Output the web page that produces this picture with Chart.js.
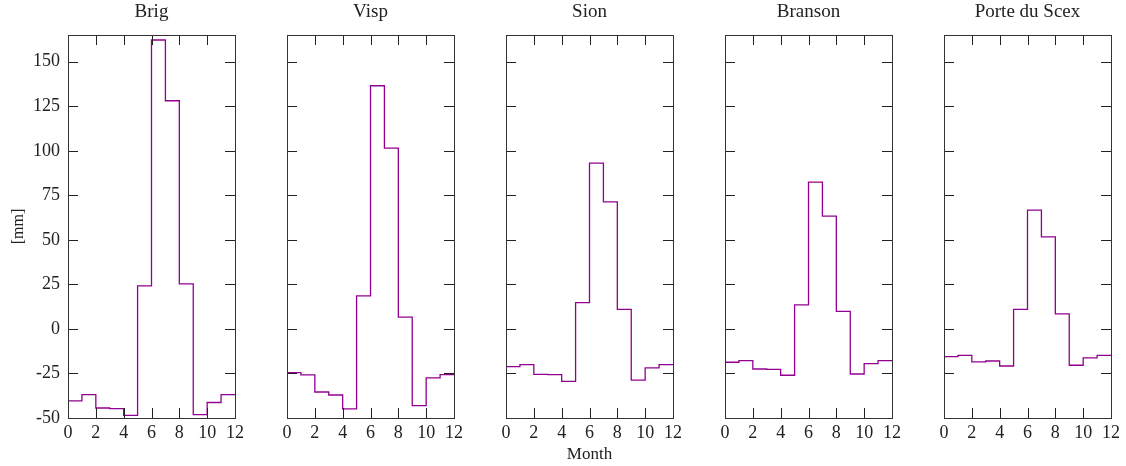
<!DOCTYPE html>
<html>
<head>
<meta charset="utf-8">
<script src="https://cdn.jsdelivr.net/npm/chart.js@4.4.1/dist/chart.umd.min.js"></script>
<style>
  body { margin: 0; background: #fff; overflow: hidden; }
  #wrap { position: relative; width: 1126px; height: 466px; overflow: hidden; }
  #wrap canvas { position: absolute; top: 0; }
</style>
</head>
<body>
<div id="wrap"></div>
<script>
// month edges (step starts), last one closes the step at 12
const months = [0, 1, 2, 3, 4, 5, 6, 7, 8, 9, 10, 11, 12];
const stations = ['Brig', 'Visp', 'Sion', 'Branson', 'Porte du Scex'];

const brig    = [-40.4, -36.9, -44.4, -44.7, -48.5, 24.2, 162.2, 128.1, 25.3, -48.1, -41.3, -36.9];
const visp    = [-24.5, -25.8, -35.4, -37.1, -44.9, 18.5, 136.5, 101.5, 6.6, -43.1, -27.5, -25.6];
const sion    = [-21.2, -20.0, -25.5, -25.7, -29.4, 14.8, 93.1, 71.3, 11.0, -28.7, -21.9, -20.0];
const branson = [-18.7, -17.8, -22.5, -22.7, -26.0, 13.5, 82.4, 63.3, 9.9, -25.3, -19.5, -17.8];
const porte   = [-15.5, -14.8, -18.5, -18.0, -20.8, 11.0, 66.7, 51.7, 8.4, -20.4, -16.3, -14.8];
const series = [brig, visp, sion, branson, porte];

const yTicks = [-50, -25, 0, 25, 50, 75, 100, 125, 150];
const xTicks = [0, 2, 4, 6, 8, 10, 12];

const FONT = "'Liberation Serif', 'DejaVu Serif', serif";
const SIDE_ROOM = 68;   // same room left and right so the title sits over the plot
const PLOT_W = 167;
const plotLefts = [68, 287, 506, 725, 944];

// frame + inward ticks on all four sides
const frameTicks = {
    id: 'frameTicks',
    afterDraw: function (chart) {
        const ctx = chart.ctx;
        const a = chart.chartArea;
        const xs = chart.scales.x;
        const ys = chart.scales.y;
        const tl = 10;
        ctx.save();
        ctx.strokeStyle = '#222';
        ctx.lineWidth = 1;
        ctx.beginPath();
        ys.ticks.forEach(function (t) {
            const y = Math.round(ys.getPixelForValue(t.value)) + 0.5;
            ctx.moveTo(a.left, y); ctx.lineTo(a.left + tl, y);
            ctx.moveTo(a.right, y); ctx.lineTo(a.right - tl, y);
        });
        xs.ticks.forEach(function (t) {
            const x = Math.round(xs.getPixelForValue(t.value)) + 0.5;
            ctx.moveTo(x, a.top); ctx.lineTo(x, a.top + tl);
            ctx.moveTo(x, a.bottom); ctx.lineTo(x, a.bottom - tl);
        });
        ctx.stroke();
        ctx.strokeStyle = '#333';
        ctx.strokeRect(Math.round(a.left) + 0.5, Math.round(a.top) + 0.5,
            Math.round(a.right - a.left), Math.round(a.bottom - a.top));
        ctx.restore();
    }
};

function makePanel(i) {
    const wrap = document.getElementById('wrap');
    const cv = document.createElement('canvas');
    const w = SIDE_ROOM * 2 + PLOT_W;
    cv.width = w;
    cv.height = 466;
    cv.style.left = (plotLefts[i] - SIDE_ROOM) + 'px';
    wrap.appendChild(cv);

    const vals = series[i];
    const pts = months.map(function (m, k) {
        return { x: m, y: vals[Math.min(k, vals.length - 1)] };
    });

    new Chart(cv, {
        type: 'line',
        data: {
            datasets: [{
                label: stations[i],
                data: pts,
                stepped: true,
                borderColor: 'rgb(145, 0, 145)',
                borderWidth: 1.3,
                pointRadius: 0,
                fill: false
            }]
        },
        options: {
            responsive: false,
            animation: false,
            layout: { padding: 0 },
            plugins: {
                legend: { display: false },
                tooltip: { enabled: false },
                title: {
                    display: true,
                    text: stations[i],
                    color: '#222',
                    font: { family: FONT, size: 19, weight: 'normal' },
                    padding: { top: 1, bottom: 11.2 }
                }
            },
            scales: {
                x: {
                    type: 'linear',
                    min: 0,
                    max: 12,
                    grid: { display: false, drawTicks: false },
                    border: { display: false },
                    afterBuildTicks: function (s) { s.ticks = xTicks.map(function (v) { return { value: v }; }); },
                    afterFit: function (s) { s.height = 48; },
                    ticks: {
                        color: '#222',
                        padding: 4,
                        maxRotation: 0,
                        autoSkip: false,
                        font: { family: FONT, size: 18 }
                    },
                    title: {
                        display: i === 2,
                        text: 'Month',
                        color: '#222',
                        font: { family: FONT, size: 17 },
                        padding: { top: 0, bottom: 1 }
                    }
                },
                y: {
                    min: -50,
                    max: 165,
                    grid: { display: false, drawTicks: false },
                    border: { display: false },
                    afterBuildTicks: function (s) { s.ticks = yTicks.map(function (v) { return { value: v }; }); },
                    afterFit: function (s) { s.width = SIDE_ROOM; },
                    ticks: {
                        display: i === 0,
                        color: '#222',
                        padding: 8,
                        font: { family: FONT, size: 18 }
                    },
                    title: {
                        display: i === 0,
                        text: '[mm]',
                        color: '#222',
                        font: { family: FONT, size: 16 },
                        padding: { top: 9, bottom: 0 }
                    }
                },
                // empty right axis, only keeps the plot centred under the title
                yr: {
                    position: 'right',
                    grid: { display: false, drawTicks: false },
                    border: { display: false },
                    ticks: { display: false },
                    afterFit: function (s) { s.width = SIDE_ROOM; }
                }
            }
        },
        plugins: [frameTicks]
    });
}

for (var i = 0; i < stations.length; i++) {
    makePanel(i);
}
</script>
</body>
</html>
